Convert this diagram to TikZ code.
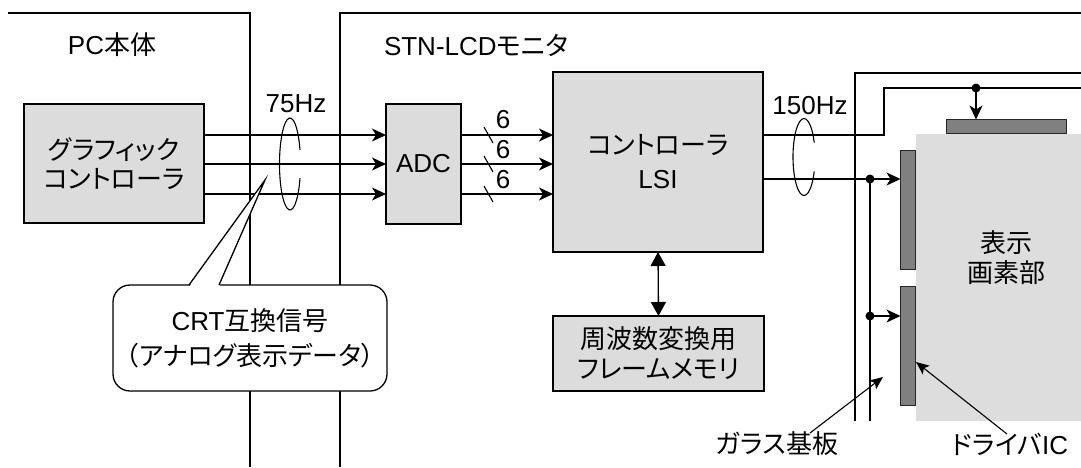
\documentclass[tikz,border=0pt]{standalone}
\usepackage{fontspec}
\setmainfont{Liberation Sans}
\newfontfamily\jpfont[RawFeature=+palt]{Noto Sans CJK JP}
\usetikzlibrary{arrows.meta,calc}
\definecolor{boxgray}{HTML}{DCDCDC}
\definecolor{panelgray}{HTML}{DDDDDD}
\definecolor{drvgray}{HTML}{808080}
\begin{document}
\begin{tikzpicture}[x=1pt,y=-1pt,
  every node/.style={inner sep=0pt, outer sep=0pt, font=\fontsize{26}{30}\selectfont},
  frame/.style={line width=2.6pt},
  blk/.style={draw, line width=2.6pt, fill=boxgray, align=center},
  sig/.style={line width=1.3pt},
  thinl/.style={line width=1.1pt},
  tip/.style={-{Stealth[length=14pt,width=13pt,inset=4pt]}},
  lead/.style={line width=1.1pt, -{Stealth[length=13pt,width=11pt,inset=3pt]}},
  dbl/.style={line width=1.3pt, {Triangle[length=14pt,width=15pt]}-{Triangle[length=14pt,width=15pt]}},
  bar/.style={draw=black!85, line width=1.3pt, fill=drvgray},
  dot/.style={circle, fill, minimum size=9pt},
  lbl/.style={align=center}]
\useasboundingbox (0,0) rectangle (1081,467);

% enclosures
\draw[frame] (8,13) -- (250,13) -- (250,467);
\draw[frame] (340,467) -- (340,13) -- (1081,13);
\node[lbl] (pc) at (112,45) {PC{\jpfont 本体}};
\node[lbl, anchor=west] (mon) at (384,45) {STN-LCD{\jpfont モニタ}};

% signal rows
\coordinate (r1) at (0,135);
\coordinate (r2) at (0,164);
\coordinate (r3) at (0,194);
\coordinate (r4) at (0,179);

% blocks
\node[blk, minimum width=180pt, minimum height=119pt, font=\fontsize{26}{29}\selectfont\jpfont] (gc) at (114,163.5) {グラフィック\\コントローラ};
\node[blk, minimum width=75pt, minimum height=120pt] (adc) at (423.5,164) {ADC};
\node[blk, minimum width=210pt, minimum height=180pt, font=\fontsize{26}{34}\selectfont] (lsi) at (658,162) {{\jpfont コントローラ}\\LSI};
\node[blk, minimum width=211pt, minimum height=75pt, font=\fontsize{26}{30}\selectfont\jpfont] (mem) at (658.5,353.5) {周波数変換用\\フレームメモリ};

% analog lines into the ADC
\foreach \r in {r1,r2,r3}
  \draw[sig,tip] (gc.east |- \r) -- (adc.west |- \r);

% 6-bit buses into the LSI
\foreach \r in {r1,r2,r3}
  \draw[sig,tip] (adc.east |- \r) -- (lsi.west |- \r);
\foreach \y in {135,164,194}
  \draw[thinl] (484,\y-8) -- (493,\y+8);
\node (b1) at (503,120) {6};
\node (b2) at (503,150) {6};
\node (b3) at (503,180) {6};

% frame memory link
\draw[dbl] (lsi.south) -- (mem.north);

% cable bundles
\node (f75) at (296,104) {75Hz};
\draw[thinl] (290,164) ++(18:10.5 and 46) arc[start angle=18, end angle=342, x radius=10.5, y radius=46];
\node (f150) at (810,106) {150Hz};
\draw[thinl] (804,157) ++(22:11 and 38.5) arc[start angle=22, end angle=338, x radius=11, y radius=38.5];

% glass substrate and panel
\draw[frame] (855,421) -- (855,73) -- (1081,73);
\fill[panelgray] (916,134) rectangle (1081,421);
\node[bar, minimum width=120pt, minimum height=14pt] (tbar) at (1006.5,126.5) {};
\node[bar, minimum width=15pt, minimum height=119pt] (lbar1) at (908,210) {};
\node[bar, minimum width=15pt, minimum height=119pt] (lbar2) at (908,346) {};
\node[lbl, font=\fontsize{26}{30}\selectfont\jpfont] (pix) at (1006,258) {表示\\画素部};

% drive signals
\coordinate (up1) at (884,135);
\coordinate (up2) at (884,88);
\coordinate (edge) at (1081,88);
\draw[sig] (lsi.east |- r1) -- (up1) -- (up2) -- (edge);
\node[dot] (d1) at (976,88) {};
\draw[sig,tip] (d1.center) -- (d1 |- tbar.north);

\draw[sig,tip] (lsi.east |- r4) -- (lbar1.west |- r4);
\node[dot] (d2) at (870,179) {};
\coordinate (busend) at (870,421);
\draw[sig] (d2.center) -- (busend);
\node[dot] (d3) at (870,316) {};
\draw[sig,tip] (d3.center) -- (lbar2.west |- d3);

% callout
\node[draw, line width=1.3pt, fill=white, rounded corners=17pt, minimum width=274pt, minimum height=106pt,
      align=center, font=\fontsize{26}{35}\selectfont] (crt) at (250,338)
      {CRT{\jpfont 互換信号}\\{\jpfont （アナログ表示データ）}};
\coordinate (ctip) at (265,180);
\coordinate (cb1) at (189,285);
\coordinate (cb2) at (219,285);
\fill[white] ($(cb1)+(0,2)$) -- (ctip) -- ($(cb2)+(0,2)$) -- cycle;
\draw[line width=1.3pt] (cb1) -- (ctip) -- (cb2);

% labels
\node[font=\fontsize{26}{30}\selectfont\jpfont] (glass) at (777,444) {ガラス基板};
\node (drv) at (1010,444) {{\jpfont ドライバ}IC};
\coordinate (gl0) at (810,433);
\coordinate (gl1) at (883,377);
\draw[lead] (gl0) -- (gl1);
\coordinate (dr0) at (1007,434);
\coordinate (dr1) at (916,362);
\draw[lead] (dr0) -- (dr1);
\end{tikzpicture}
\end{document}
